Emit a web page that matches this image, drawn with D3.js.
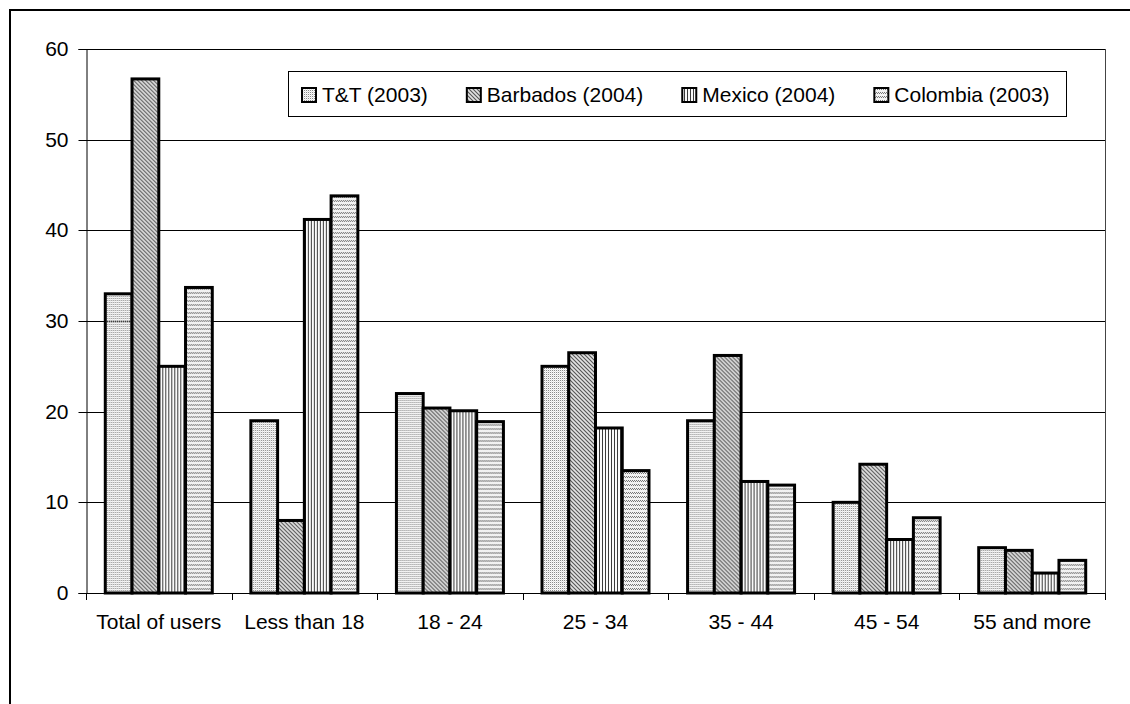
<!DOCTYPE html>
<html>
<head>
<meta charset="utf-8">
<script src="https://cdn.jsdelivr.net/npm/d3@7"></script>
<style>
  html, body { margin: 0; padding: 0; background: #fff; }
  svg { display: block; }
  text { font-family: "Liberation Sans", Arial, sans-serif; fill: #000; }
</style>
</head>
<body>
<svg id="chart" width="1130" height="704"></svg>
<script>
const categories = ["Total of users", "Less than 18", "18 - 24", "25 - 34", "35 - 44", "45 - 54", "55 and more"];
const seriesNames = ["T&T (2003)", "Barbados (2004)", "Mexico (2004)", "Colombia (2003)"];
const ttValues = [33, 19, 22, 25, 19, 10, 5];
const barbadosValues = [56.7, 8, 20.4, 26.5, 26.2, 14.2, 4.7];
const mexicoValues = [25, 41.2, 20.1, 18.2, 12.3, 5.9, 2.2];
const colombiaValues = [33.7, 43.8, 18.9, 13.5, 11.9, 8.3, 3.6];
const yTicks = [0, 10, 20, 30, 40, 50, 60];

const seriesValues = [ttValues, barbadosValues, mexicoValues, colombiaValues];
const patternIds = ["pTT", "pBarb", "pMex", "pCol"];

const svg = d3.select("#chart");
const W = 1130, H = 704;
const plot = { left: 86, right: 1105, top: 49, bottom: 593 };

// ---- patterns ----
const defs = svg.append("defs");
// T&T: fine dotted
let p = defs.append("pattern").attr("id", "pTT").attr("patternUnits", "userSpaceOnUse")
  .attr("width", 2).attr("height", 2);
p.append("rect").attr("x", 0).attr("y", 0).attr("width", 1).attr("height", 1).attr("fill", "#8a8a8a");
p.append("rect").attr("x", 1).attr("y", 1).attr("width", 1).attr("height", 1).attr("fill", "#e4e4e4");
p.append("rect").attr("x", 1).attr("y", 0).attr("width", 1).attr("height", 1).attr("fill", "#f4f4f4");
// Barbados: dense downward diagonal
p = defs.append("pattern").attr("id", "pBarb").attr("patternUnits", "userSpaceOnUse")
  .attr("width", 4).attr("height", 4);
p.append("rect").attr("width", 4).attr("height", 4).attr("fill", "#e2e2e2");
p.append("path").attr("d", "M-1,-1 L5,5 M-1,3 L1,5 M3,-1 L5,1")
  .attr("stroke", "#555").attr("stroke-width", 1.1).attr("fill", "none");
// Mexico: narrow vertical lines
p = defs.append("pattern").attr("id", "pMex").attr("patternUnits", "userSpaceOnUse")
  .attr("width", 3).attr("height", 3);
p.append("rect").attr("x", 0).attr("y", 0).attr("width", 1).attr("height", 3).attr("fill", "#3a3a3a");
p.append("rect").attr("x", 1).attr("y", 0).attr("width", 2).attr("height", 3).attr("fill", "#fafafa");
// Colombia: horizontal wavy dotted rows
p = defs.append("pattern").attr("id", "pCol").attr("patternUnits", "userSpaceOnUse")
  .attr("width", 4).attr("height", 4);
p.append("rect").attr("width", 4).attr("height", 4).attr("fill", "#f2f2f2");
[[0,0],[1,1],[2,0],[3,1]].forEach(([x, y]) =>
  p.append("rect").attr("x", x).attr("y", y).attr("width", 1).attr("height", 1).attr("fill", "#777"));

// ---- outer frame ----
svg.append("path").attr("d", `M10,${H + 5} L10,10 L${W + 5},10`)
  .attr("fill", "none").attr("stroke", "#000").attr("stroke-width", 2);

// ---- scales ----
const y = d3.scaleLinear().domain([0, 60]).range([plot.bottom, plot.top]);
const x0 = d3.scaleBand().domain(categories).range([plot.left, plot.right])
  .paddingInner(0.265).paddingOuter(0.1325);
const x1 = d3.scaleBand().domain(seriesNames).range([0, x0.bandwidth()]).padding(0);

// ---- gridlines ----
svg.append("g").selectAll("line").data(yTicks.filter(d => d > 0)).join("line")
  .attr("x1", plot.left).attr("x2", plot.right)
  .attr("y1", d => Math.round(y(d)) + 0.5).attr("y2", d => Math.round(y(d)) + 0.5)
  .attr("stroke", "#000").attr("stroke-width", 1);

// plot frame (right side)
svg.append("line").attr("x1", plot.right + 0.5).attr("x2", plot.right + 0.5)
  .attr("y1", plot.top).attr("y2", plot.bottom).attr("stroke", "#444").attr("stroke-width", 1);

// ---- bars ----
const groups = svg.append("g").selectAll("g").data(categories).join("g")
  .attr("transform", d => `translate(${x0(d)},0)`);
groups.selectAll("rect")
  .data((c, i) => seriesNames.map((s, j) => ({ s, j, v: seriesValues[j][i] })))
  .join("rect")
  .attr("x", d => x1(d.s))
  .attr("y", d => y(d.v))
  .attr("width", x1.bandwidth())
  .attr("height", d => y(0) - y(d.v))
  .attr("fill", d => `url(#${patternIds[d.j]})`)
  .attr("stroke", "#000").attr("stroke-width", 3);

// ---- y axis ----
const yAxis = d3.axisLeft(y).tickValues(yTicks).tickSize(8).tickPadding(10).tickFormat(d3.format("d"));
const yg = svg.append("g").attr("transform", `translate(${plot.left + 0.5},0)`).call(yAxis);
yg.select(".domain").attr("stroke", "#000");
yg.selectAll(".tick line").attr("stroke", "#000");
yg.selectAll(".tick text").style("font-size", "21px").style("font-family", "Liberation Sans, Arial, sans-serif").attr("fill", "#000");
yg.selectAll(".tick").attr("transform", d => `translate(0,${Math.round(y(d)) + 0.5})`);

// ---- x axis ----
svg.append("line").attr("x1", plot.left).attr("x2", plot.right + 1)
  .attr("y1", plot.bottom + 0.5).attr("y2", plot.bottom + 0.5).attr("stroke", "#000");
const step = x0.step();
const boundaries = d3.range(categories.length + 1).map(i => plot.left + i * step);
svg.append("g").selectAll("line").data(boundaries).join("line")
  .attr("x1", d => Math.round(d) + 0.5).attr("x2", d => Math.round(d) + 0.5)
  .attr("y1", plot.bottom).attr("y2", plot.bottom + 7)
  .attr("stroke", "#000");
const xAxis = d3.axisBottom(x0).tickSize(0).tickPadding(0);
const xg = svg.append("g").attr("transform", `translate(0,${plot.bottom})`).call(xAxis);
xg.select(".domain").remove();
xg.selectAll(".tick text").attr("y", 36).attr("dy", 0)
  .style("font-size", "21px").style("font-family", "Liberation Sans, Arial, sans-serif").attr("fill", "#000");

// ---- legend ----
const legend = svg.append("g");
const legendBox = legend.append("rect").attr("fill", "#fff").attr("stroke", "#000").attr("stroke-width", 1);
let cx = 302;
const items = [];
seriesNames.forEach((name, j) => {
  const g = legend.append("g");
  g.append("rect").attr("x", cx).attr("y", 88).attr("width", 14).attr("height", 14)
    .attr("fill", `url(#${patternIds[j]})`).attr("stroke", "#000").attr("stroke-width", 2);
  const t = g.append("text").attr("x", cx + 20).attr("y", 102).style("font-size", "21px").text(name);
  const tw = t.node().getComputedTextLength();
  items.push(cx + 20 + tw);
  cx = cx + 20 + tw + 39;
});
const lastEnd = items[items.length - 1];
const boxLeft = 288;
const boxRight = Math.max(1066, Math.round(lastEnd + 12));
legendBox.attr("x", boxLeft + 0.5).attr("y", 71.5).attr("width", boxRight - boxLeft).attr("height", 45);
</script>
</body>
</html>
